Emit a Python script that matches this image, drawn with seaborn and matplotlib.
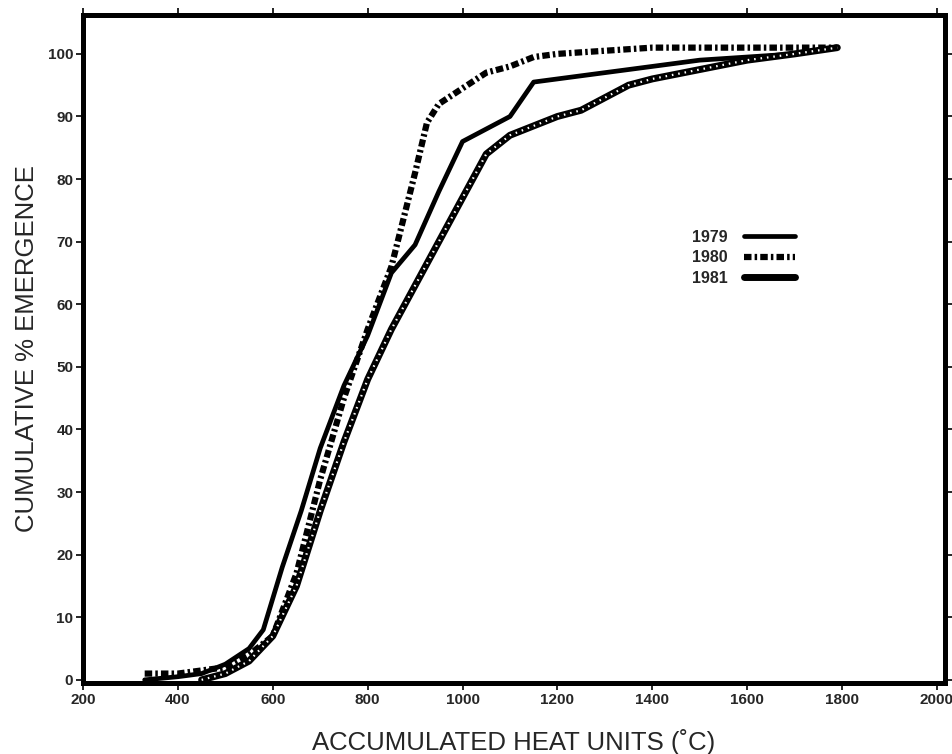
import matplotlib
matplotlib.use("Agg")
import matplotlib.pyplot as plt
import seaborn as sns
import pandas as pd
from matplotlib.lines import Line2D

sns.set_theme(style="white")
plt.rcParams['font.family'] = ['Liberation Sans', 'DejaVu Sans']

# Data
heat_1979 = [330, 400, 450, 500, 550, 580, 620, 660, 700, 750, 800, 850, 900, 950, 1000, 1050, 1100, 1150, 1200, 1300, 1400, 1500, 1600, 1700, 1790]
emerg_1979 = [0, 0.5, 1, 2.5, 5, 8, 18, 27, 37, 47, 55, 65, 69.5, 78, 86, 88, 90, 95.5, 96, 97, 98, 99, 99.5, 100, 101]

heat_1980 = [330, 400, 450, 500, 550, 600, 650, 700, 750, 800, 850, 900, 925, 950, 1000, 1050, 1100, 1150, 1200, 1300, 1400, 1500, 1600, 1700, 1790]
emerg_1980 = [1, 1, 1.5, 2, 4, 7, 17, 32, 45, 56, 66, 81, 89, 92, 94.5, 97, 98, 99.5, 100, 100.5, 101, 101, 101, 101, 101]

heat_1981 = [450, 500, 550, 600, 650, 700, 750, 800, 850, 900, 950, 1000, 1050, 1100, 1150, 1200, 1250, 1300, 1350, 1400, 1500, 1600, 1700, 1790]
emerg_1981 = [0, 1, 3, 7, 15, 27, 38, 48, 56, 63, 70, 77, 84, 87, 88.5, 90, 91, 93, 95, 96, 97.5, 99, 100, 101]

years = ["1979", "1980", "1981"]
x_ticks = list(range(200, 2001, 200))
y_ticks = list(range(0, 101, 10))

df = pd.concat([
    pd.DataFrame({"heat": heat_1979, "emerg": emerg_1979, "year": "1979"}),
    pd.DataFrame({"heat": heat_1980, "emerg": emerg_1980, "year": "1980"}),
    pd.DataFrame({"heat": heat_1981, "emerg": emerg_1981, "year": "1981"}),
])

fig = plt.figure(figsize=(9.53, 7.54), dpi=100)
ax = fig.add_axes([0.0871, 0.0942, 0.9916 - 0.0871, 0.980 - 0.0942])

dashdot = (0, (1.2, 0.5, 0.4, 0.5))
styles = {
    "1979": dict(lw=3.4, ls="-"),
    "1980": dict(lw=4.5, ls=dashdot),
    "1981": dict(lw=5.0, ls="-"),
}

for yr in years:
    sub = df[df["year"] == yr]
    sns.lineplot(data=sub, x="heat", y="emerg", ax=ax, color="black",
                 linewidth=styles[yr]["lw"], linestyle=styles[yr]["ls"],
                 estimator=None, sort=False, legend=False)
# hatch-like overlay for 1981
sub = df[df["year"] == "1981"]
sns.lineplot(data=sub, x="heat", y="emerg", ax=ax, color="white",
             linewidth=1.6, linestyle=(0, (0.7, 2.2)), estimator=None,
             sort=False, legend=False)

ax.set_xlim(200, 2017)
ax.set_ylim(-0.5, 106.2)
ax.set_xticks(x_ticks)
ax.set_yticks(y_ticks)
ax.tick_params(axis="both", which="both", direction="out", length=5, width=1.2,
               color="black", labelsize=11, bottom=True, top=True,
               left=True, right=True, labeltop=False, labelright=False, pad=2)
for lab in ax.get_xticklabels() + ax.get_yticklabels():
    lab.set_fontweight("bold")
for sp in ax.spines.values():
    sp.set_linewidth(3.6)
    sp.set_color("black")

ax.set_xlabel("ACCUMULATED HEAT UNITS (˚C)", fontsize=18.5, labelpad=16)
ax.set_ylabel("CUMULATIVE % EMERGENCE", fontsize=18.5, labelpad=6)

handles = [
    Line2D([], [], color="black", lw=3.4, ls="-"),
    Line2D([], [], color="black", lw=4.5, ls=dashdot),
    Line2D([], [], color="black", lw=5.0, ls="-"),
]
leg = ax.legend(handles, years, loc="upper left", bbox_to_anchor=(0.69, 0.70),
                frameon=False, markerfirst=False, handlelength=3.2,
                handletextpad=1.0, labelspacing=0.35, prop={"size": 11.5, "weight": "bold"})

fig.savefig("out.png", dpi=100)
